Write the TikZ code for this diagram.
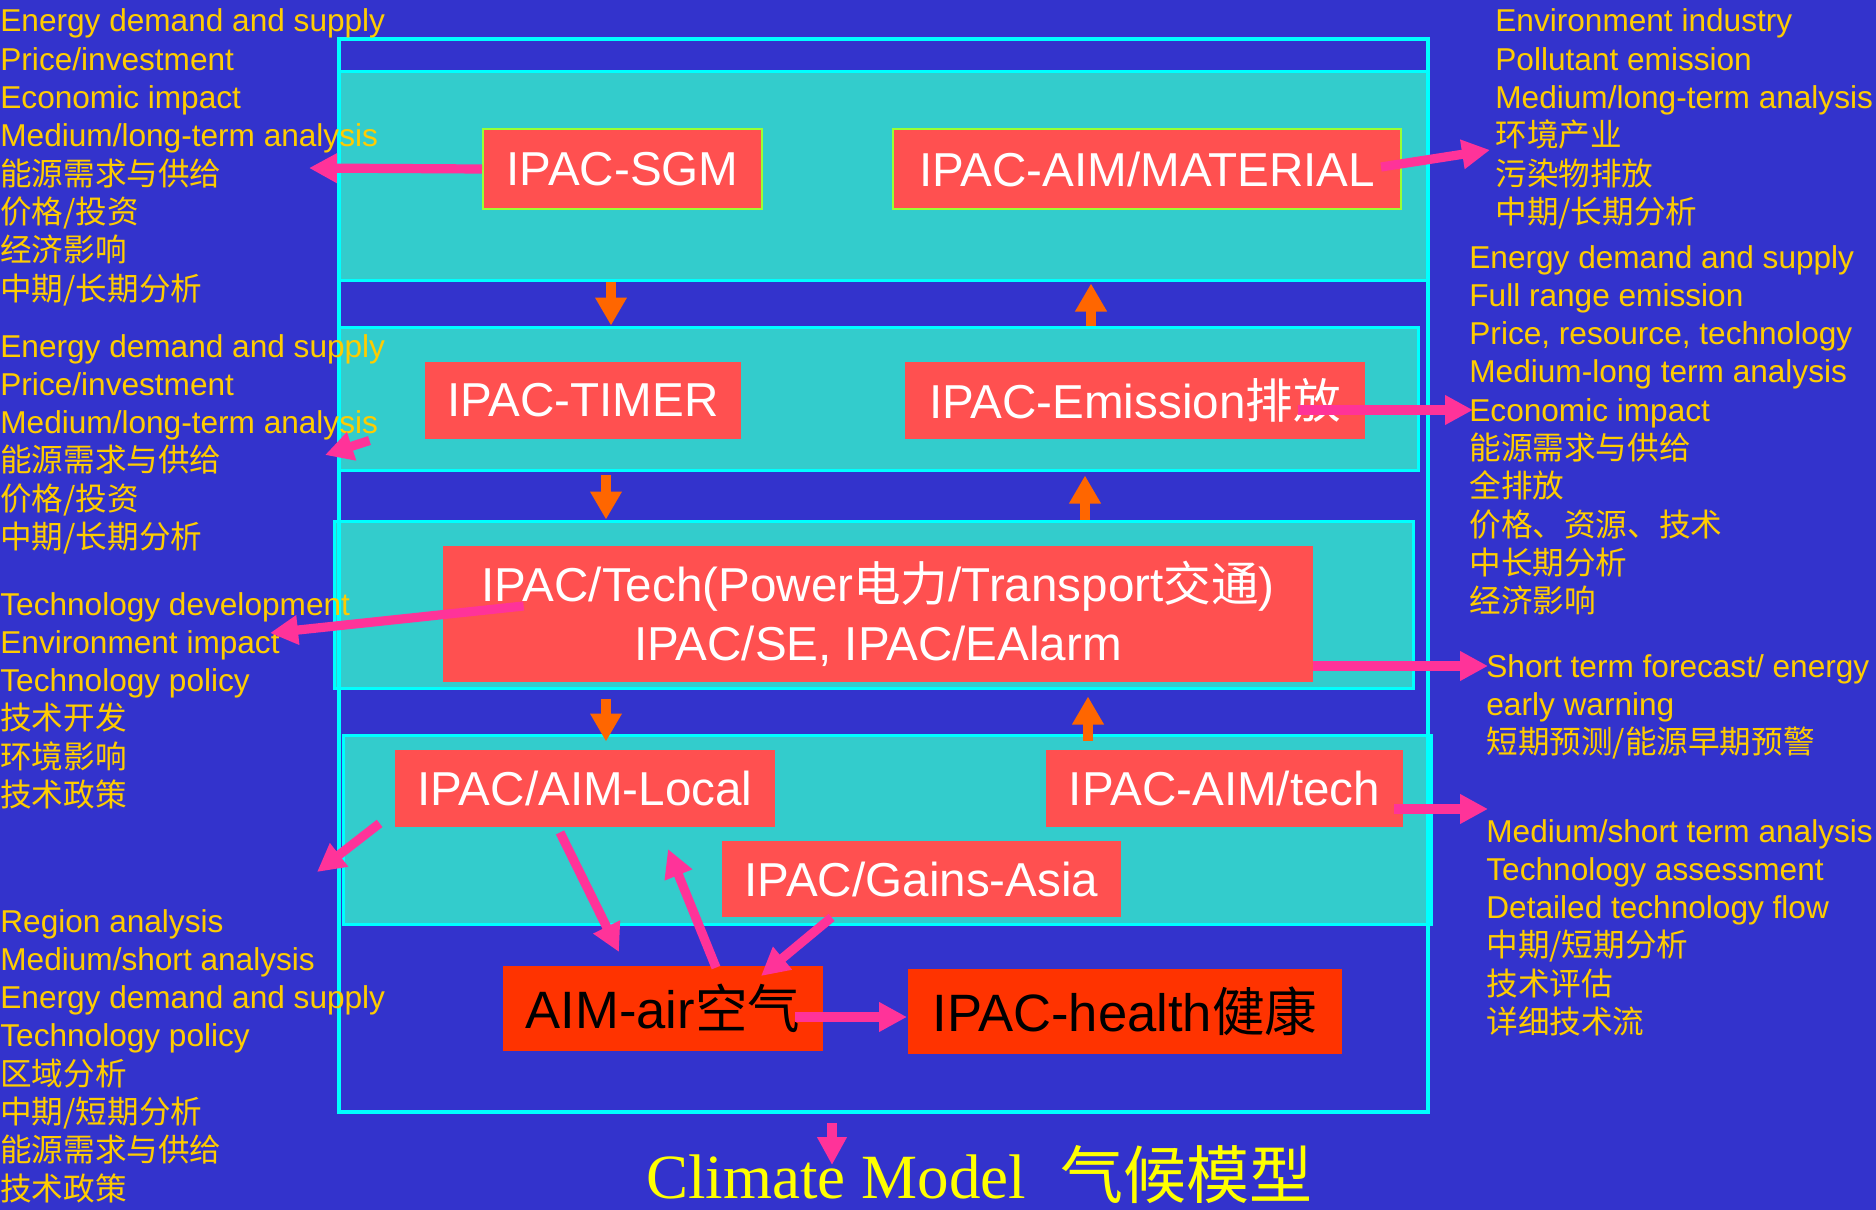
\documentclass[tikz,border=0pt]{standalone}
\usepackage{fontspec}
\setmainfont{Liberation Sans}
\newfontfamily\cjk{Noto Sans CJK SC}
\newfontfamily\climserif{Liberation Serif}
\usetikzlibrary{arrows.meta,calc}
\definecolor{bgblue}{RGB}{51,51,204}
\definecolor{layercyan}{RGB}{51,204,204}
\definecolor{linecyan}{RGB}{0,255,255}
\definecolor{boxred}{RGB}{255,80,80}
\definecolor{boxorange}{RGB}{255,51,0}
\definecolor{txtgold}{RGB}{255,204,0}
\definecolor{climyellow}{RGB}{255,255,0}
\definecolor{arrpink}{RGB}{255,51,153}
\definecolor{arrorange}{RGB}{255,102,0}
\definecolor{boxgreen}{RGB}{153,255,51}
\tikzset{
  layerbox/.style={fill=layercyan, draw=linecyan, line width=1.5pt, inner sep=0pt},
  framebox/.style={draw=linecyan, line width=2pt, inner sep=0pt},
  box/.style={fill=boxred, text=white, inner sep=0pt, align=center,
    font=\fontsize{23.8}{29.5}\selectfont},
  greenbox/.style={box, draw=boxgreen, line width=1pt},
  hotbox/.style={fill=boxorange, text=black, inner sep=0pt, align=center,
    font=\fontsize{26.3}{30}\selectfont},
  lbl/.style={text=txtgold, inner sep=0pt, anchor=base west,
    font=\fontsize{15.8}{19}\selectfont},
  pinkarr/.style={draw=arrpink, line width=4.6pt, -{Triangle[width=14pt,length=14pt]}},
  orarr/.style={draw=arrorange, line width=5pt, -{Triangle[width=15pt,length=14pt]}},
}
\newcommand\lblblock[4]{%
  \foreach \t [count=\i from 0] in {#4} {
    \node[lbl] (#1-\i) at (#2, #3+\i*38.3) {\t};
  }}
\begin{document}
\begin{tikzpicture}[x=0.5pt, y=-0.5pt]
\fill[bgblue] (0,0) rectangle (1876,1210);
\useasboundingbox (0,0) rectangle (1876,1210);

% layers and frame
\node[layerbox, minimum width=544.5pt, minimum height=104.5pt] (lay1) at (883.5,175.5) {};
\node[layerbox, minimum width=539.5pt, minimum height=71.5pt] (lay2) at (878.5,398.5) {};
\node[layerbox, minimum width=539.5pt, minimum height=83.5pt] (lay3) at (873.5,604.5) {};
\node[layerbox, minimum width=544pt, minimum height=94.5pt] (lay4) at (887,829.5) {};
\node[framebox, minimum width=544.5pt, minimum height=536.5pt] (frame) at (883.5,575.5) {};

% model boxes
\node[greenbox, minimum width=139.5pt, minimum height=40pt] (sgm) at (622.5,169) {IPAC-SGM};
\node[greenbox, minimum width=254pt, minimum height=40pt] (mat) at (1147,169) {IPAC-AIM/MATERIAL};
\node[box, minimum width=158pt, minimum height=38.5pt] (timer) at (583,400.5) {IPAC-TIMER};
\node[box, minimum width=230pt, minimum height=38.5pt] (emis) at (1135,400) {IPAC-Emission{\cjk 排放}};
\node[box, minimum width=435pt, minimum height=68pt] (tech) at (878,614)
  {IPAC/Tech(Power{\cjk 电力}/Transport{\cjk 交通})\\IPAC/SE, IPAC/EAlarm};
\node[box, minimum width=190pt, minimum height=38.5pt] (local) at (585,788.5) {IPAC/AIM-Local};
\node[box, minimum width=178.5pt, minimum height=38.5pt] (atech) at (1224.5,788.5) {IPAC-AIM/tech};
\node[box, minimum width=199.5pt, minimum height=38pt] (gains) at (921.5,879) {IPAC/Gains-Asia};
\node[hotbox, minimum width=160pt, minimum height=42.5pt] (air) at (663,1008.5) {AIM-air{\cjk 空气}};
\node[hotbox, minimum width=217pt, minimum height=42.5pt] (health) at (1125,1011.5) {IPAC-health{\cjk 健康}};

% text blocks
\lblblock{L1}{0}{32}{Energy demand and supply, Price/investment, Economic impact,
  Medium/long-term analysis, {\cjk 能源需求与供给}, {\cjk 价格/投资}, {\cjk 经济影响}, {\cjk 中期/长期分析}}
\lblblock{L2}{0}{357}{Energy demand and supply, Price/investment, Medium/long-term analysis,
  {\cjk 能源需求与供给}, {\cjk 价格/投资}, {\cjk 中期/长期分析}}
\lblblock{L3}{0}{615}{Technology development, Environment impact, Technology policy,
  {\cjk 技术开发}, {\cjk 环境影响}, {\cjk 技术政策}}
\lblblock{L4}{0}{932}{Region analysis, Medium/short analysis, Energy demand and supply, Technology policy,
  {\cjk 区域分析}, {\cjk 中期/短期分析}, {\cjk 能源需求与供给}, {\cjk 技术政策}}
\lblblock{R1}{1495}{32}{Environment industry, Pollutant emission, Medium/long-term analysis,
  {\cjk 环境产业}, {\cjk 污染物排放}, {\cjk 中期/长期分析}}
\lblblock{R2}{1469}{268}{Energy demand and supply, Full range emission, {Price, resource, technology},
  Medium-long term analysis, Economic impact, {\cjk 能源需求与供给}, {\cjk 全排放},
  {\cjk 价格、资源、技术}, {\cjk 中长期分析}, {\cjk 经济影响}}
\lblblock{R3}{1486}{677}{Short term forecast/ energy, early warning, {\cjk 短期预测/能源早期预警}}
\lblblock{R4}{1486}{842}{Medium/short term analysis, Technology assessment, Detailed technology flow,
  {\cjk 中期/短期分析}, {\cjk 技术评估}, {\cjk 详细技术流}}

\node[anchor=base west, inner sep=0pt, text=climyellow,
  font=\climserif\fontsize{31.5}{36}\selectfont] (climate) at (646,1198)
  {Climate Model\hspace{17pt}{\cjk 气候模型}};

% orange arrows between layers
\draw[orarr] ($(lay1.south)+(-272.5,0)$) -- ($(lay2.north)+(-267.5,0)$);
\draw[orarr] ($(lay2.north)+(212.5,0)$) -- ($(lay1.south)+(207.5,2)$);
\draw[orarr] ($(lay2.south)+(-272.5,3)$) -- ($(lay3.north)+(-267.5,0)$);
\draw[orarr] ($(lay3.north)+(211.5,0)$) -- ($(lay2.south)+(206.5,4)$);
\draw[orarr] ($(lay3.south)+(-267.5,9)$) -- ($(lay4.north)+(-281,8)$);
\draw[orarr] ($(lay4.north)+(201,7)$) -- ($(lay3.south)+(214.5,7)$);

% pink arrows
\coordinate (tL1) at (309,168);
\coordinate (tR1) at (1490,150);
\coordinate (tL2) at (325,455);
\coordinate (tL3) at (270,633);
\coordinate (tR2) at (1473,410);
\coordinate (tR3) at (1488,666);
\coordinate (tR4) at (1488,809);
\coordinate (tL4) at (317,872);
\coordinate (tAir) at (619,952);
\coordinate (tUp) at (668,849);
\coordinate (tGa) at (761,976);
\coordinate (tHe) at (907,1017);
\coordinate (tCl) at (832,1165);
\draw[pinkarr] (sgm.west) -- (tL1);
\draw[pinkarr] ($(mat.east)+(-21,-2)$) -- (tR1);
\draw[pinkarr] ($(lay2.south west)+(32,-31)$) -- (tL2);
\draw[pinkarr] ($(tech.west)+(81,-8)$) -- (tL3);
\draw[pinkarr] ($(emis.east)+(-67,10)$) -- (tR2);
\draw[pinkarr] ($(tech.east)+(0,52)$) -- (tR3);
\draw[pinkarr] ($(atech.east)+(-9,20.5)$) -- (tR4);
\draw[pinkarr] ($(local.south west)+(-15,-4)$) -- (tL4);
\draw[pinkarr] ($(local.south)+(-25,5)$) -- (tAir);
\draw[pinkarr] ($(air.north)+(53,2)$) -- (tUp);
\draw[pinkarr] ($(gains.south west)+(110,0)$) -- (tGa);
\draw[pinkarr] ($(air.east)+(-28,8.5)$) -- (tHe);
\draw[pinkarr] ($(frame.south)+(-51.5,9)$) -- (tCl);
\end{tikzpicture}
\end{document}
